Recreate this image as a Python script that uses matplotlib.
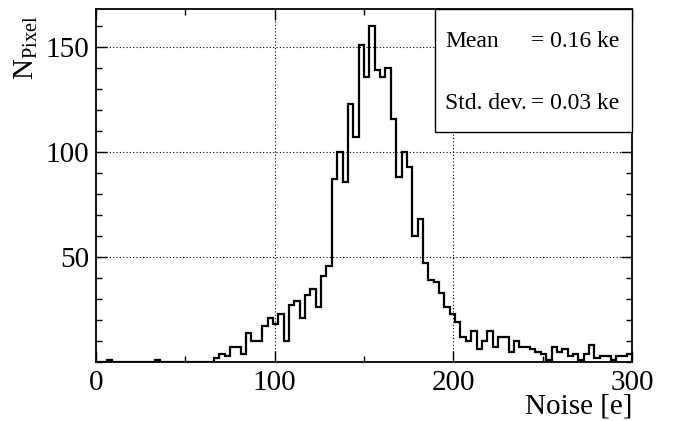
# -*- coding: utf-8 -*-
"""Pixel noise histogram (ROOT-like style)."""
import numpy as np
import matplotlib
matplotlib.use("Agg")
import matplotlib.pyplot as plt
from matplotlib.patches import Rectangle
from matplotlib.ticker import MultipleLocator

plt.rcParams["font.family"] = ["Liberation Serif", "DejaVu Serif"]
plt.rcParams["mathtext.fontset"] = "custom"
plt.rcParams["mathtext.rm"] = "Liberation Serif"

# histogram: 100 bins of 3 e between 0 and 300
X_RANGE = (0, 300)
COUNTS = [
    0, 0, 1, 0, 0, 0, 0, 0, 0, 0,
    0, 1, 0, 0, 0, 0, 0, 0, 0, 0,
    0, 0, 2, 4, 3, 7, 7, 4, 14, 10,
    10, 17, 21, 18, 23, 10, 27, 29, 21, 32,
    35, 26, 41, 46, 87, 100, 86, 123, 107, 151,
    136, 160, 139, 136, 140, 116, 88, 100, 93, 60,
    68, 47, 39, 38, 33, 26, 23, 19, 12, 10,
    15, 6, 10, 15, 7, 12, 12, 5, 10, 7,
    7, 6, 5, 4, 1, 7, 5, 6, 3, 4,
    1, 4, 8, 2, 3, 3, 1, 3, 3, 4,
]
X_TICKS = [0, 100, 200, 300]
Y_TICKS = [50, 100, 150]
STATS = [("Mean", "= 0.16 ke"), ("Std. dev.", "= 0.03 ke")]


def build():
    fig = plt.figure(figsize=(6.73, 4.21), dpi=100)
    ax = fig.add_axes([0.1427, 0.140, 0.7963, 0.8375])

    edges = np.linspace(X_RANGE[0], X_RANGE[1], len(COUNTS) + 1)
    ax.stairs(COUNTS, edges, color="black", linewidth=1.6, baseline=0, zorder=3)

    ax.set_xlim(*X_RANGE)
    ax.set_ylim(0, max(COUNTS) * 1.05)

    ax.set_xticks(X_TICKS)
    ax.set_yticks(Y_TICKS)
    ax.xaxis.set_minor_locator(MultipleLocator(50))
    ax.yaxis.set_minor_locator(MultipleLocator(10))
    ax.tick_params(which="both", direction="in", top=True, right=True,
                   labelsize=21, width=1.0)
    ax.tick_params(which="major", length=8)
    ax.tick_params(which="minor", length=4)
    ax.tick_params(axis="x", pad=6)
    ax.tick_params(axis="y", pad=5)

    for s in ax.spines.values():
        s.set_linewidth(1.3)

    # dotted grid on the inner major ticks
    for x in X_TICKS[1:-1]:
        ax.axvline(x, color="black", linestyle=(0, (1, 2)), linewidth=0.8, zorder=1)
    for y in Y_TICKS:
        ax.axhline(y, color="black", linestyle=(0, (1, 2)), linewidth=0.8, zorder=1)

    ax.set_xlabel("Noise [e]", fontsize=21, loc="right")
    ax.xaxis.set_label_coords(1.0, -0.088)
    ax.xaxis.label.set_va("top")
    ax.set_ylabel(r"N$_{\mathrm{Pixel}}$", fontsize=21, loc="top")
    ax.yaxis.set_label_coords(-0.105, 0.985)

    # stats box
    ax.add_patch(Rectangle((0.6325, 0.6516), 0.3675, 0.3484, transform=ax.transAxes,
                           facecolor="white", edgecolor="black", linewidth=1.0,
                           zorder=5, clip_on=False))
    for (name, val), ty in zip(STATS, [0.909, 0.734]):
        ax.text(0.651, ty, name, transform=ax.transAxes, fontsize=17,
                ha="left", va="center", zorder=6)
        ax.text(0.8116, ty, val, transform=ax.transAxes, fontsize=17,
                ha="left", va="center", zorder=6)

    fig.savefig("out.png", dpi=100, facecolor="white")
    plt.close(fig)


if __name__ == "__main__":
    build()
